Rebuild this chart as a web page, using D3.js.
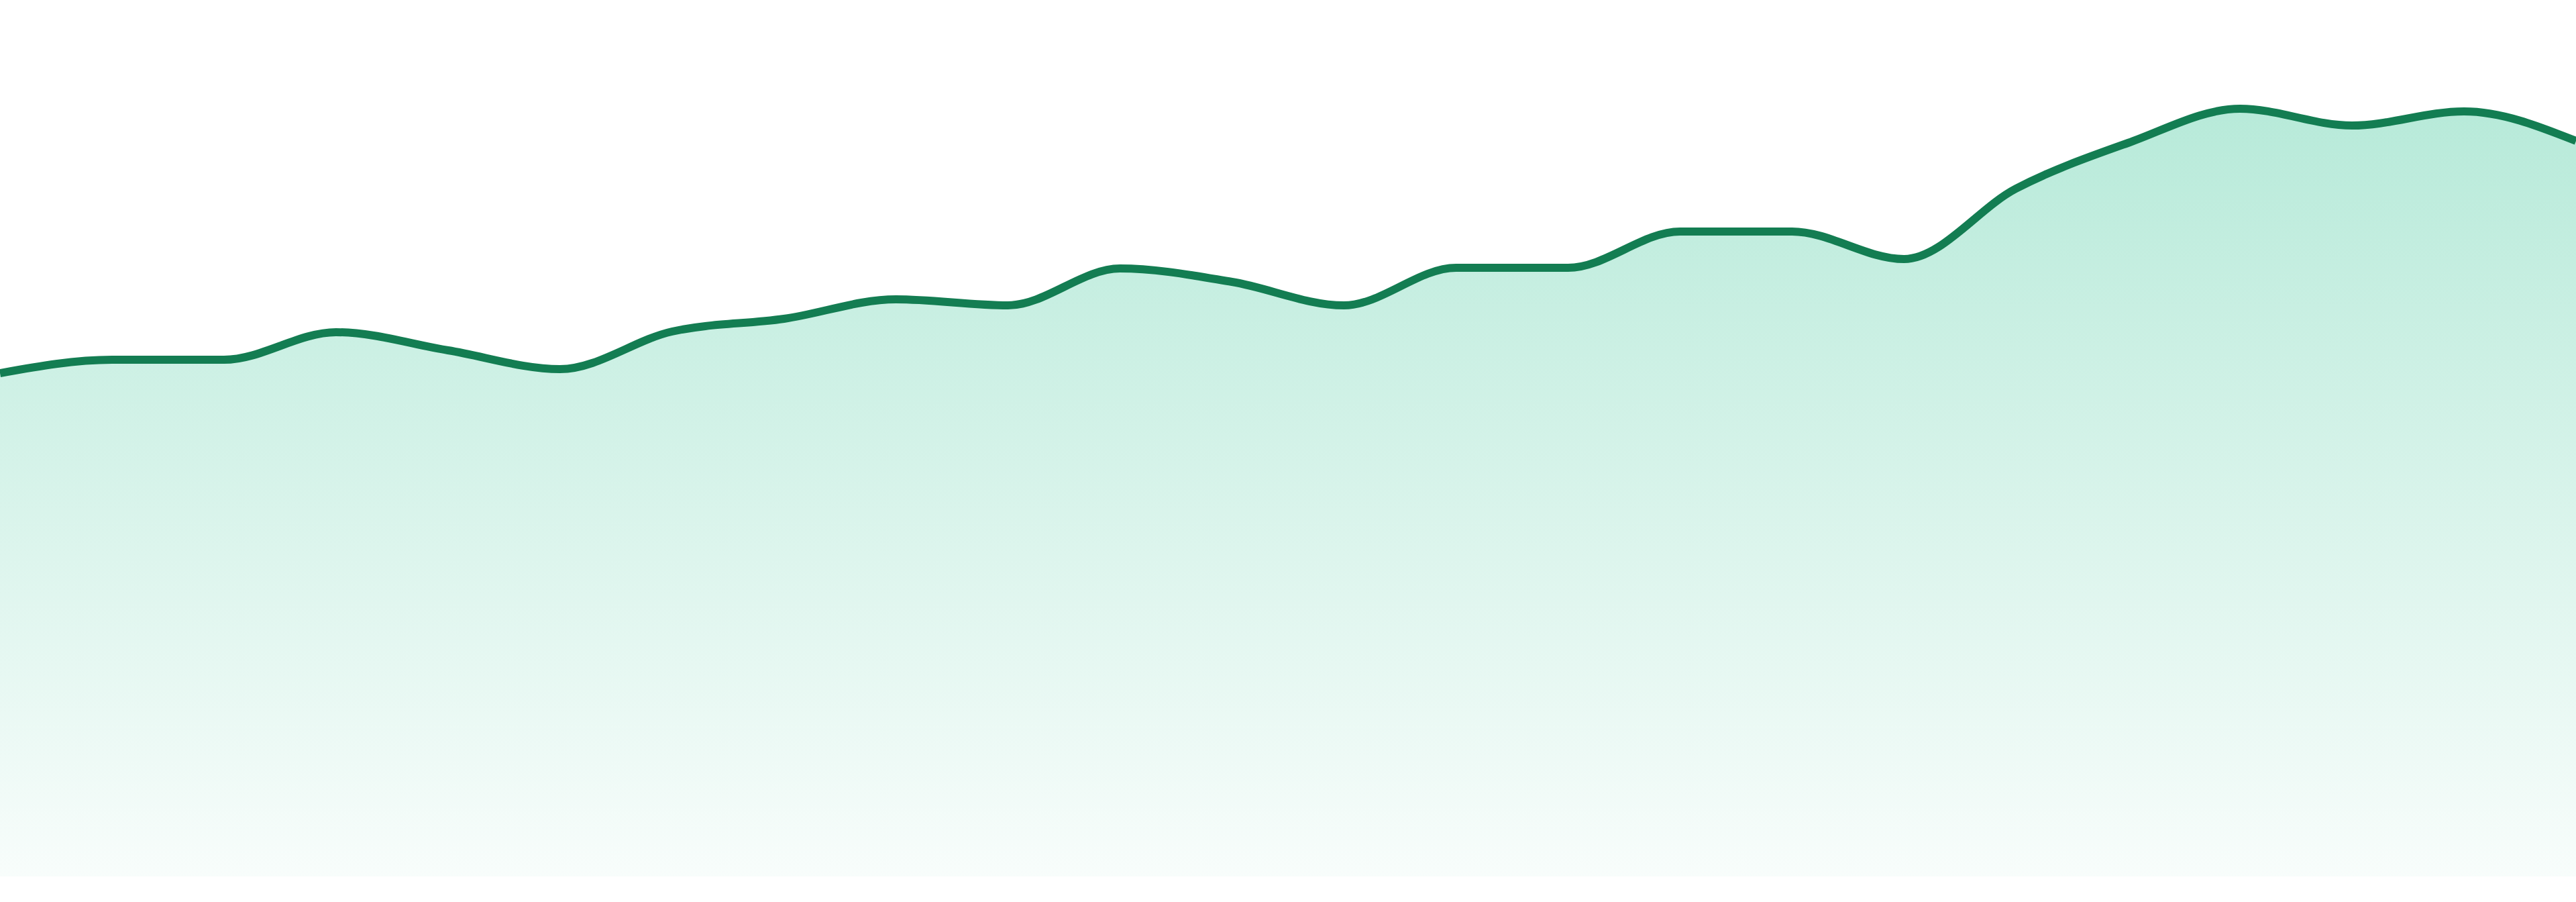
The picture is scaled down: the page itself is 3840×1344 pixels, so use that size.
<!DOCTYPE html>
<html>
<head>
<meta charset="utf-8">
<script src="https://cdn.jsdelivr.net/npm/d3@7"></script>
<style>
  html, body { margin: 0; padding: 0; background: #ffffff; }
  svg { display: block; }
</style>
</head>
<body>
<svg id="chart" width="3840" height="1344"></svg>
<script>
// one point per period
var periods = d3.range(1, 25);
var values = [75.0, 77.0, 77.0, 81.1, 78.4, 75.6, 81.2, 83.1, 86.0, 85.1, 90.6, 88.6,
              85.1, 90.7, 90.7, 96.1, 96.1, 92.0, 102.5, 109.3, 114.4, 111.9, 114.0, 109.6];

var data = periods.map(function(p, i) { return { p: p, v: values[i] }; });

var svg = d3.select("#chart"),
  width = +svg.attr("width"),
  height = +svg.attr("height"),
  bottom = 1306;

var x = d3.scaleLinear()
  .domain(d3.extent(periods))
  .range([0, width]);

var y = d3.scaleLinear()
  .domain([0, 130])
  .range([bottom, 6]);

// fill fades from the top of the line down to the base
var grad = svg.append("defs").append("linearGradient")
  .attr("id", "fade")
  .attr("gradientUnits", "userSpaceOnUse")
  .attr("x1", 0).attr("x2", 0)
  .attr("y1", y(d3.max(values)))
  .attr("y2", y(0));

grad.append("stop").attr("offset", 0).attr("stop-color", "#10b981").attr("stop-opacity", 0.3);
grad.append("stop").attr("offset", 1).attr("stop-color", "#10b981").attr("stop-opacity", 0.03);

var area = d3.area()
  .curve(d3.curveMonotoneX)
  .x(function(d) { return x(d.p); })
  .y0(y(0))
  .y1(function(d) { return y(d.v); });

var line = d3.line()
  .curve(d3.curveMonotoneX)
  .x(function(d) { return x(d.p); })
  .y(function(d) { return y(d.v); });

svg.append("path")
  .datum(data)
  .attr("fill", "url(#fade)")
  .attr("d", area);

svg.append("path")
  .datum(data)
  .attr("fill", "none")
  .attr("stroke", "#137d52")
  .attr("stroke-width", 12)
  .attr("stroke-linejoin", "round")
  .attr("d", line);
</script>
</body>
</html>
